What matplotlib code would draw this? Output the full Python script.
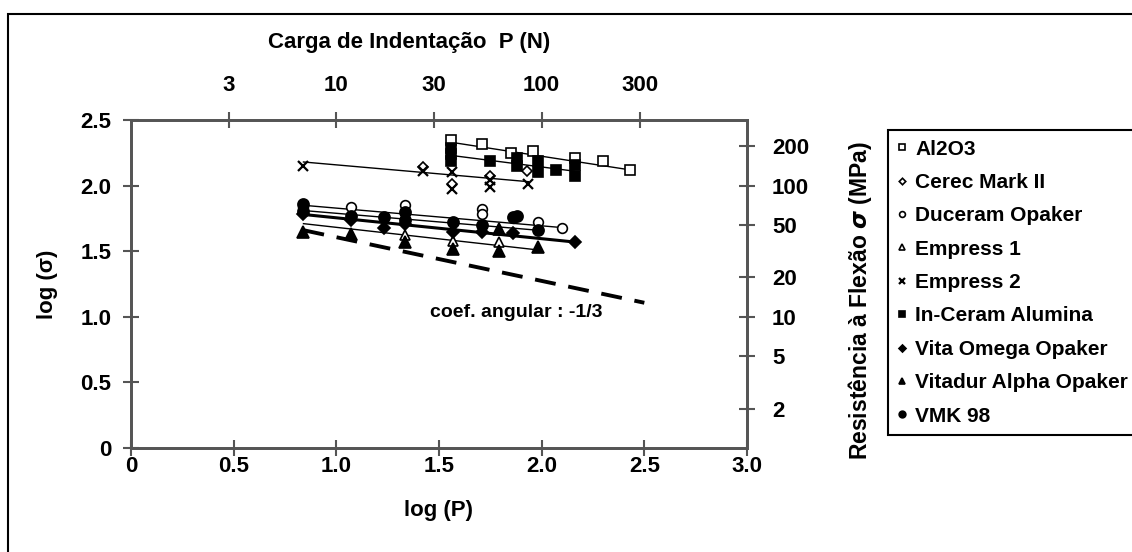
import numpy as np
import matplotlib
matplotlib.use('Agg')
import matplotlib.pyplot as plt
from matplotlib.patches import Rectangle
from matplotlib.ticker import FuncFormatter

plt.rcParams['font.family'] = ['Liberation Sans', 'DejaVu Sans']
plt.rcParams['font.weight'] = 'bold'
plt.rcParams['mathtext.fontset'] = 'dejavusans'

# log(P) / log(sigma) values per material
al2o3_x = [1.56, 1.71, 1.85, 1.96, 2.16, 2.30, 2.43]
al2o3_y = [2.35, 2.32, 2.25, 2.26, 2.21, 2.19, 2.12]
al2o3_fit_x = [1.56, 2.43]
al2o3_fit_y = [2.33, 2.12]

cerec_x = [1.42, 1.565, 1.75, 1.93]
cerec_y = [2.14, 2.01, 2.07, 2.11]

duceram_x = [0.84, 1.07, 1.335, 1.71, 1.71, 1.86, 1.98, 2.10]
duceram_y = [1.84, 1.84, 1.85, 1.82, 1.78, 1.75, 1.72, 1.68]
duceram_fit_x = [0.84, 2.10]
duceram_fit_y = [1.85, 1.68]

empress1_x = [1.335, 1.57, 1.79]
empress1_y = [1.62, 1.58, 1.57]

empress2_x = [0.84, 1.42, 1.565, 1.565, 1.75, 1.75, 1.935]
empress2_y = [2.15, 2.11, 2.10, 1.975, 2.04, 1.99, 2.01]
empress2_fit_x = [0.84, 1.935]
empress2_fit_y = [2.18, 2.03]

inceram_x = [1.56, 1.56, 1.56, 1.75, 1.88, 1.88, 1.98, 1.98, 2.07, 2.16, 2.16]
inceram_y = [2.29, 2.24, 2.19, 2.19, 2.21, 2.15, 2.19, 2.10, 2.12, 2.16, 2.07]
inceram_fit_x = [1.56, 2.16]
inceram_fit_y = [2.23, 2.11]

vita_x = [0.84, 1.07, 1.23, 1.335, 1.57, 1.71, 1.86, 2.16]
vita_y = [1.78, 1.74, 1.68, 1.71, 1.65, 1.65, 1.64, 1.57]
vita_fit_x = [0.84, 2.16]
vita_fit_y = [1.78, 1.57]

vitadur_x = [0.84, 1.07, 1.335, 1.57, 1.79, 1.79, 1.98]
vitadur_y = [1.65, 1.63, 1.57, 1.52, 1.67, 1.50, 1.53]
vitadur_fit_x = [0.84, 1.98]
vitadur_fit_y = [1.71, 1.51]

vmk_x = [0.84, 0.84, 1.07, 1.23, 1.335, 1.335, 1.57, 1.71, 1.86, 1.88, 1.98]
vmk_y = [1.86, 1.81, 1.77, 1.76, 1.80, 1.74, 1.72, 1.70, 1.76, 1.77, 1.66]
vmk_fit_x = [0.84, 1.98]
vmk_fit_y = [1.81, 1.66]

# reference slope -1/3
slope_x = [0.84, 2.50]
slope_y = [1.66, 1.107]

top_ticks = [3, 10, 30, 100, 300]
right_ticks = [2, 5, 10, 20, 50, 100, 200]

fig = plt.figure(figsize=(11.32, 5.52), dpi=100)
ax = fig.add_axes([0.1157, 0.1884, 0.5442, 0.5942])

fits = [(al2o3_fit_x, al2o3_fit_y, 1.0), (inceram_fit_x, inceram_fit_y, 1.0),
        (empress2_fit_x, empress2_fit_y, 1.0), (duceram_fit_x, duceram_fit_y, 1.0),
        (vmk_fit_x, vmk_fit_y, 1.0), (vita_fit_x, vita_fit_y, 2.2),
        (vitadur_fit_x, vitadur_fit_y, 1.0)]
for fx, fy, lw in fits:
    ax.plot(fx, fy, color='black', lw=lw, zorder=2)

ax.plot(slope_x, slope_y, color='black', lw=2.8, dashes=(5.4, 3.3), zorder=2)

series = [
    ('Al2O3', al2o3_x, al2o3_y, dict(marker='s', mfc='white', ms=7)),
    ('Cerec Mark II', cerec_x, cerec_y, dict(marker='D', mfc='white', ms=5.5)),
    ('Duceram Opaker', duceram_x, duceram_y, dict(marker='o', mfc='white', ms=7)),
    ('Empress 1', empress1_x, empress1_y, dict(marker='^', mfc='white', ms=7)),
    ('Empress 2', empress2_x, empress2_y, dict(marker='x', ms=7.5, mew=1.6)),
    ('In-Ceram Alumina', inceram_x, inceram_y, dict(marker='s', mfc='black', ms=7)),
    ('Vita Omega Opaker', vita_x, vita_y, dict(marker='D', mfc='black', ms=6)),
    ('Vitadur Alpha Opaker', vitadur_x, vitadur_y, dict(marker='^', mfc='black', ms=8)),
    ('VMK 98', vmk_x, vmk_y, dict(marker='o', mfc='black', ms=8)),
]
for name, xs, ys, st in series:
    st.setdefault('mew', 1.2)
    ax.plot(xs, ys, ls='none', mec='black', color='black', label=name, zorder=3, **st)

ax.text(1.456, 1.035, 'coef. angular : -1/3', fontsize=14, fontweight='bold', va='center')

axis_col = '#555555'
fmt = FuncFormatter(lambda v, p: '0' if v == 0 else '%.1f' % v)
ax.set_xlim(0, 3.0)
ax.set_ylim(0, 2.5)
ax.set_xticks(np.arange(0, 3.01, 0.5))
ax.set_yticks(np.arange(0, 2.51, 0.5))
ax.xaxis.set_major_formatter(fmt)
ax.yaxis.set_major_formatter(fmt)
ax.tick_params(direction='inout', length=12, width=1.5, color=axis_col, labelsize=16)
ax.tick_params(axis='x', pad=0)
ax.tick_params(axis='y', pad=8)
ax.set_xlabel('log (P)', fontsize=16, fontweight='bold', labelpad=16)
ax.set_ylabel('log (σ)', fontsize=16, fontweight='bold', labelpad=16)

ax_top = ax.twiny()
ax_top.set_xlim(0, 3.0)
ax_top.set_xticks(np.log10(top_ticks))
ax_top.set_xticklabels([str(t) for t in top_ticks])
ax_top.tick_params(direction='inout', length=12, width=1.5, color=axis_col, labelsize=16, pad=11)
ax_top.set_xlabel('Carga de Indentação  P (N)', fontsize=16, fontweight='bold')
ax_top.xaxis.set_label_coords(0.451, 1.22)

ax_r = ax.twinx()
ax_r.set_ylim(0, 2.5)
ax_r.set_yticks(np.log10(right_ticks))
ax_r.set_yticklabels([str(t) for t in right_ticks])
ax_r.tick_params(direction='inout', length=12, width=1.5, color=axis_col, labelsize=16, pad=12)
ax_r.set_ylabel(r'Resistência à Flexão $\sigma$ (MPa)', fontsize=16.5, fontweight='bold')
ax_r.yaxis.set_label_coords(1.16, 0.45)

for a in (ax, ax_top, ax_r):
    for sp in a.spines.values():
        sp.set_color(axis_col)
        sp.set_linewidth(1.8)

handles, labels = ax.get_legend_handles_labels()
leg = fig.legend(handles, labels, loc='upper left', bbox_to_anchor=(888 / 1132, 1 - 130 / 552),
                 fancybox=False, edgecolor='black', framealpha=1, fontsize=15,
                 markerscale=0.6, handlelength=0.4, handletextpad=0.45,
                 labelspacing=0.69, borderpad=0.46, borderaxespad=0)
leg.get_frame().set_linewidth(1.5)
for t in leg.get_texts():
    t.set_fontweight('bold')

# outer frame round the whole figure
fig.patches.append(Rectangle((8 / 1132, -0.5), 2, 1.5 - 14 / 552, transform=fig.transFigure,
                             fill=False, edgecolor='black', lw=1.5))

fig.savefig('out.png', dpi=100)
